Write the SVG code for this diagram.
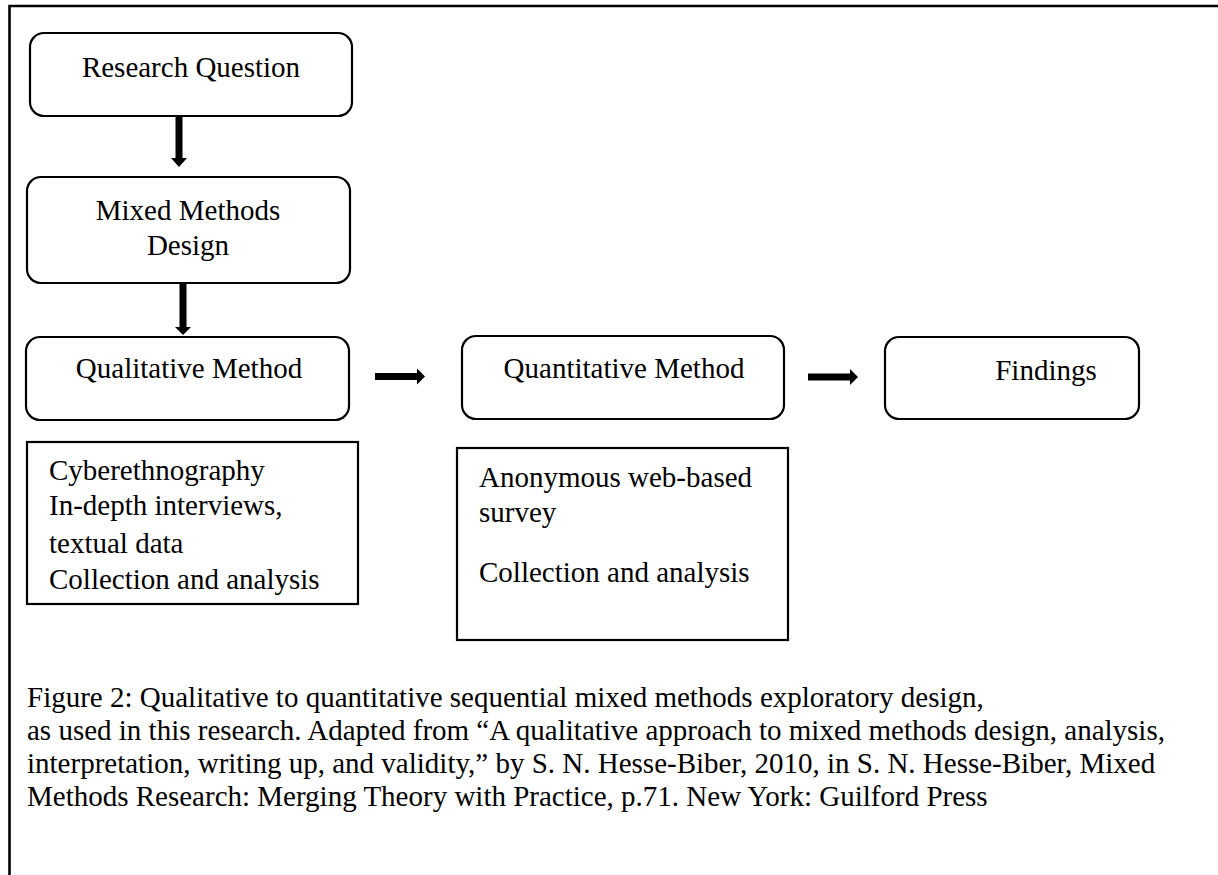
<svg xmlns="http://www.w3.org/2000/svg" width="1218" height="875" viewBox="0 0 1218 875">
<style>
  .bg { fill: #ffffff; }
  .rbox { fill: #ffffff; stroke: #000000; stroke-width: 2.2; }
  .sbox { fill: #ffffff; stroke: #000000; stroke-width: 2.2; }
  .border { fill: none; stroke: #000000; stroke-width: 2.6; }
  .t { font-family: "Liberation Serif", "Times New Roman", serif; font-size: 29px; fill: #000000; }
  .c { text-anchor: middle; }
  .arrow { fill: #000000; stroke: none; }
</style>
<rect class="bg" x="0" y="0" width="1218" height="875"/>
<g id="frame">
  <path class="border" d="M9.5,875 L9.5,6 L1218,6"/>
</g>
<g id="node-research-question">
  <rect class="rbox" x="30" y="33" width="322" height="83" rx="14" ry="14"/>
  <text class="t c" x="191" y="77">Research Question</text>
</g>
<g id="node-mixed-methods-design">
  <rect class="rbox" x="27" y="177" width="323" height="106" rx="14" ry="14"/>
  <text class="t c" x="188" y="220">Mixed Methods</text>
  <text class="t c" x="188" y="255">Design</text>
</g>
<g id="node-qualitative-method">
  <rect class="rbox" x="26" y="337" width="323" height="83" rx="14" ry="14"/>
  <text class="t c" x="189" y="378">Qualitative Method</text>
</g>
<g id="node-quantitative-method">
  <rect class="rbox" x="462" y="336" width="322" height="83" rx="14" ry="14"/>
  <text class="t c" x="624" y="378">Quantitative Method</text>
</g>
<g id="node-findings">
  <rect class="rbox" x="885" y="337" width="254" height="82" rx="14" ry="14"/>
  <text class="t c" x="1046" y="380">Findings</text>
</g>
<g id="node-qualitative-details">
  <rect class="sbox" x="27" y="442" width="331" height="162"/>
  <text class="t" x="49" y="480">Cyberethnography</text>
  <text class="t" x="49" y="515">In-depth interviews,</text>
  <text class="t" x="49" y="553">textual data</text>
  <text class="t" x="49" y="589">Collection and analysis</text>
</g>
<g id="node-quantitative-details">
  <rect class="sbox" x="457" y="448" width="331" height="192"/>
  <text class="t" x="479" y="487">Anonymous web-based</text>
  <text class="t" x="479" y="522">survey</text>
  <text class="t" x="479" y="582">Collection and analysis</text>
</g>
<g id="connectors">
  <polygon class="arrow" points="175.5,116 182.5,116 182.5,158 187,158 179,167 171,158 175.5,158"/>
  <polygon class="arrow" points="179.5,283 186.5,283 186.5,327 191,327 183,335 175,327 179.5,327"/>
  <polygon class="arrow" points="375,373 417,373 417,368.5 425,376.5 417,384.5 417,380 375,380"/>
  <polygon class="arrow" points="808,373.5 850,373.5 850,369 858,377 850,385 850,380.5 808,380.5"/>
</g>
<g id="caption">
  <text class="t" x="27" y="707">Figure 2: Qualitative to quantitative sequential mixed methods exploratory design,</text>
  <text class="t" x="27" y="740">as used in this research. Adapted from “A qualitative approach to mixed methods design, analysis,</text>
  <text class="t" x="27" y="773">interpretation, writing up, and validity,” by S. N. Hesse-Biber, 2010, in S. N. Hesse-Biber, Mixed</text>
  <text class="t" x="27" y="806">Methods Research: Merging Theory with Practice, p.71. New York: Guilford Press</text>
</g>
</svg>
